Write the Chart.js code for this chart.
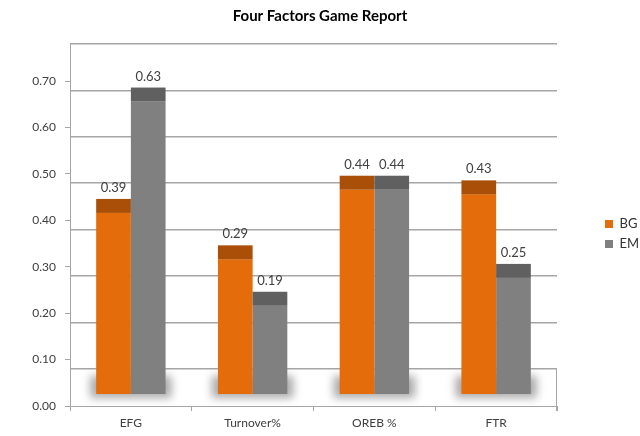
<!DOCTYPE html>
<html>
<head>
<meta charset="utf-8">
<script src="https://cdn.jsdelivr.net/npm/chart.js@4.4.0/dist/chart.umd.min.js"></script>
<style>
  html, body { margin: 0; padding: 0; background: #fff; }
  #wrap { width: 640px; height: 436px; }
</style>
</head>
<body>
<div id="wrap"><canvas id="chart" width="640" height="436"></canvas></div>
<script>
const categories = ["EFG", "Turnover%", "OREB %", "FTR"];
const bgValues = [0.39, 0.29, 0.44, 0.43];
const emValues = [0.63, 0.19, 0.44, 0.25];
const tickValues = [0, 0.1, 0.2, 0.3, 0.4, 0.5, 0.6, 0.7];
const wallLines = [0.1, 0.2, 0.3, 0.4, 0.5, 0.6, 0.7, 0.8];

const FONT = "Lato, 'Open Sans', sans-serif";
const CAP = 14;       // height of the dark top face
const GRID = "#a6a6a6";

// fake 3d: floor shadow, dark top face, value labels
const depthPlugin = {
  id: "depth",
  afterInit(chart) {
    const lg = chart.legend;
    const fit = lg.fit;
    lg.fit = function () { fit.call(this); this.width = 83; };
  },
  afterLayout(chart) {
    chart.legend.left += 41;
    chart.legend.right += 41;
    chart.legend.top += 16;
    chart.legend.bottom += 16;
  },
  beforeDatasetsDraw(chart) {
    const ctx = chart.ctx;
    const a = chart.chartArea;
    const m0 = chart.getDatasetMeta(0).data;
    const m1 = chart.getDatasetMeta(1).data;
    ctx.save();
    ctx.filter = "blur(4px)";
    ctx.fillStyle = "rgba(125,125,125,0.65)";
    m0.forEach((bar, i) => {
      const l = bar.x - bar.width / 2 - 6;
      const r = m1[i].x + m1[i].width / 2 + 6;
      ctx.fillRect(l, bar.base - 18, r - l, 22);
    });
    ctx.restore();
    // right edge of the floor
    const yw = chart.scales.yWall.getPixelForValue(0.1);
    ctx.save();
    ctx.strokeStyle = GRID;
    ctx.lineWidth = 1;
    ctx.beginPath();
    ctx.moveTo(a.right - 0.5, yw);
    ctx.lineTo(a.right - 0.5, a.bottom + 5);
    ctx.stroke();
    ctx.restore();
  },
  afterDatasetsDraw(chart) {
    const ctx = chart.ctx;
    ctx.save();
    chart.data.datasets.forEach((ds, di) => {
      chart.getDatasetMeta(di).data.forEach((bar, i) => {
        ctx.fillStyle = ds.capColor;
        ctx.fillRect(bar.x - bar.width / 2, bar.y - CAP, bar.width, CAP);
        ctx.fillStyle = "#404040";
        ctx.font = "13px " + FONT;
        ctx.textAlign = "center";
        ctx.textBaseline = "alphabetic";
        ctx.fillText(ds.data[i].toFixed(2), bar.x, bar.y - CAP - 7);
      });
    });
    ctx.restore();
  }
};

new Chart(document.getElementById("chart"), {
  type: "bar",
  data: {
    labels: categories,
    datasets: [
      {
        label: "BG",
        data: bgValues,
        backgroundColor: "#e46c0a",
        capColor: "#a94f07",
        borderWidth: 0,
        yAxisID: "yBar",
        categoryPercentage: 0.57,
        barPercentage: 1.0,
      },
      {
        label: "EM",
        data: emValues,
        backgroundColor: "#808080",
        capColor: "#606060",
        borderWidth: 0,
        yAxisID: "yBar",
        categoryPercentage: 0.57,
        barPercentage: 1.0,
      },
    ],
  },
  options: {
    responsive: false,
    animation: false,
    layout: { padding: 0 },
    scales: {
      x: {
        grid: { drawOnChartArea: false, tickLength: 5, color: GRID, offset: true },
        border: { color: GRID },
        ticks: { font: { size: 12, family: FONT }, color: "#404040", padding: 5 },
        afterFit: (s) => { s.height = 30; },
      },
      y: {
        position: "left",
        min: 0,
        max: 0.78,
        afterBuildTicks: (s) => { s.ticks = tickValues.map((v) => ({ value: v })); },
        ticks: {
          callback: (v) => Number(v).toFixed(2),
          padding: 9,
          font: { size: 12, family: FONT },
          color: "#404040",
        },
        grid: { drawOnChartArea: false, tickLength: 5, color: GRID },
        border: { color: GRID },
        afterFit: (s) => { s.width = 70; },
      },
      yWall: {
        position: "left",
        min: 0.02,
        max: 0.8,
        afterBuildTicks: (s) => { s.ticks = wallLines.map((v) => ({ value: v })); },
        ticks: { display: false },
        grid: { color: GRID, lineWidth: 1.5, drawTicks: false },
        border: { display: false },
        afterFit: (s) => { s.width = 0; },
      },
      yBar: { display: false, min: -0.026, max: 0.754 },
    },
    plugins: {
      title: {
        display: true,
        text: "Four Factors Game Report",
        color: "#000",
        font: { size: 15, weight: "bold", family: FONT },
        padding: { top: 7, bottom: 19 },
      },
      legend: {
        position: "right",
        labels: {
          boxWidth: 8,
          boxHeight: 8,
          padding: 7,
          color: "#333",
          font: { size: 13, family: FONT },
        },
      },
      tooltip: { enabled: false },
    },
  },
  plugins: [depthPlugin],
});
</script>
</body>
</html>
